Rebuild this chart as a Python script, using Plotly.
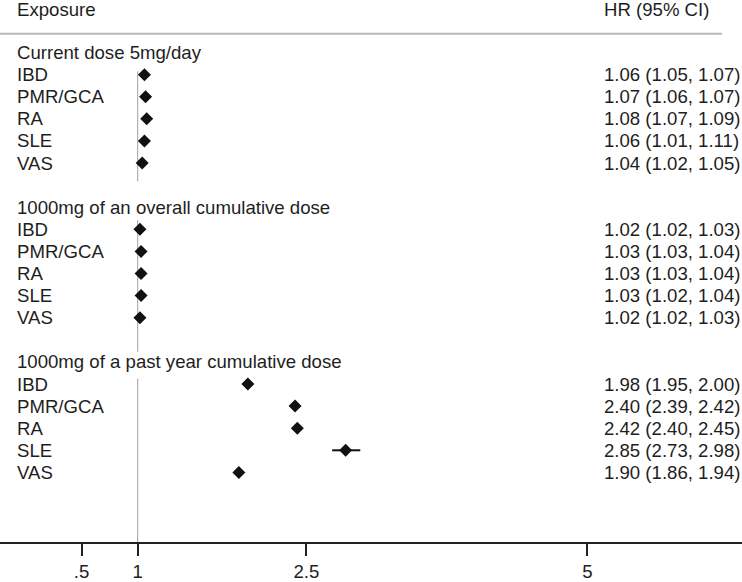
import plotly.graph_objects as go

# ---- data ----
groups = ["Current dose 5mg/day",
          "1000mg of an overall cumulative dose",
          "1000mg of a past year cumulative dose"]
diseases = ["IBD", "PMR/GCA", "RA", "SLE", "VAS"]
hr_current = [1.06, 1.07, 1.08, 1.06, 1.04]
lo_current = [1.05, 1.06, 1.07, 1.01, 1.02]
hi_current = [1.07, 1.07, 1.09, 1.11, 1.05]
hr_overall = [1.02, 1.03, 1.03, 1.03, 1.02]
lo_overall = [1.02, 1.03, 1.03, 1.02, 1.02]
hi_overall = [1.03, 1.04, 1.04, 1.04, 1.03]
hr_pastyr = [1.98, 2.40, 2.42, 2.85, 1.90]
lo_pastyr = [1.95, 2.39, 2.40, 2.73, 1.86]
hi_pastyr = [2.00, 2.42, 2.45, 2.98, 1.94]
x_ticks = [0.5, 1, 2.5, 5]
x_ticklabels = [".5", "1", "2.5", "5"]
null_value = 1

hr_all = [hr_current, hr_overall, hr_pastyr]
lo_all = [lo_current, lo_overall, lo_pastyr]
hi_all = [hi_current, hi_overall, hi_pastyr]

W, H = 742, 582
FONT = "Liberation Sans, Arial, sans-serif"
FS = 18.6
TXT = "#1e1e1e"

# row layout (row index grows downwards)
rows, hrs, los, his, labels, headers_rows = [], [], [], [], [], []
r = 0
for g in range(3):
    headers_rows.append(r)
    for i, d in enumerate(diseases):
        r += 1
        rows.append(r)
        hrs.append(hr_all[g][i])
        los.append(lo_all[g][i])
        his.append(hi_all[g][i])
        labels.append(d)
    r += 2

fig = go.Figure()

# null line segments (one per section)
seg = [(0.85, 5.83), (7.58, 13.54), (14.76, 22.2)]
for a, b in seg:
    fig.add_trace(go.Scatter(x=[null_value, null_value], y=[a, b], mode="lines",
                             line=dict(color="#a0a0a0", width=1),
                             hoverinfo="skip", showlegend=False))

fig.add_trace(go.Scatter(
    x=hrs, y=rows, mode="markers",
    marker=dict(symbol="diamond", size=10, color="#111"),
    error_x=dict(type="data", symmetric=False,
                 array=[h - m for h, m in zip(his, hrs)],
                 arrayminus=[m - l for m, l in zip(hrs, los)],
                 color="#111", thickness=2, width=0),
    showlegend=False))

ann = []
LEFT_X = 15 / W
RIGHT_X = 602 / W
ann.append(dict(x=LEFT_X, y=-1.93, xref="paper", yref="y", text="Exposure",
                xanchor="left", yanchor="middle", showarrow=False))
ann.append(dict(x=RIGHT_X, y=-1.93, xref="paper", yref="y", text="HR (95% CI)",
                xanchor="left", yanchor="middle", showarrow=False))
for g, hr in zip(groups, headers_rows):
    ann.append(dict(x=LEFT_X, y=hr, xref="paper", yref="y", text=g,
                    xanchor="left", yanchor="middle", showarrow=False))
for rr, lab, h, l, u in zip(rows, labels, hrs, los, his):
    ann.append(dict(x=LEFT_X, y=rr, xref="paper", yref="y", text=lab,
                    xanchor="left", yanchor="middle", showarrow=False))
    ann.append(dict(x=RIGHT_X, y=rr, xref="paper", yref="y",
                    text=f"{h:.2f} ({l:.2f}, {u:.2f})",
                    xanchor="left", yanchor="middle", showarrow=False))

fig.update_layout(
    width=W, height=H,
    margin=dict(l=0, r=0, t=0, b=35, pad=0),
    paper_bgcolor="white", plot_bgcolor="white",
    font=dict(family=FONT, size=FS, color=TXT),
    annotations=ann,
    shapes=[dict(type="line", xref="paper", yref="y", x0=0, x1=722 / W,
                 y0=-0.85, y1=-0.85, line=dict(color="#b8b8b8", width=2))],
    xaxis=dict(range=[-0.225, 6.376], tickvals=x_ticks, ticktext=x_ticklabels,
               showgrid=False, zeroline=False, showline=True,
               linecolor="#222", linewidth=2, ticks="outside", ticklen=12,
               tickwidth=2, tickcolor="#222",
               tickfont=dict(family=FONT, size=FS, color=TXT)),
    yaxis=dict(range=[22.15, -2.377], visible=False, showgrid=False,
               zeroline=False),
    showlegend=False,
)

fig.write_html("out.html",
               config={"displayModeBar": False},
               post_script="document.body.style.margin='0';"
                           "document.body.style.overflow='hidden';")
